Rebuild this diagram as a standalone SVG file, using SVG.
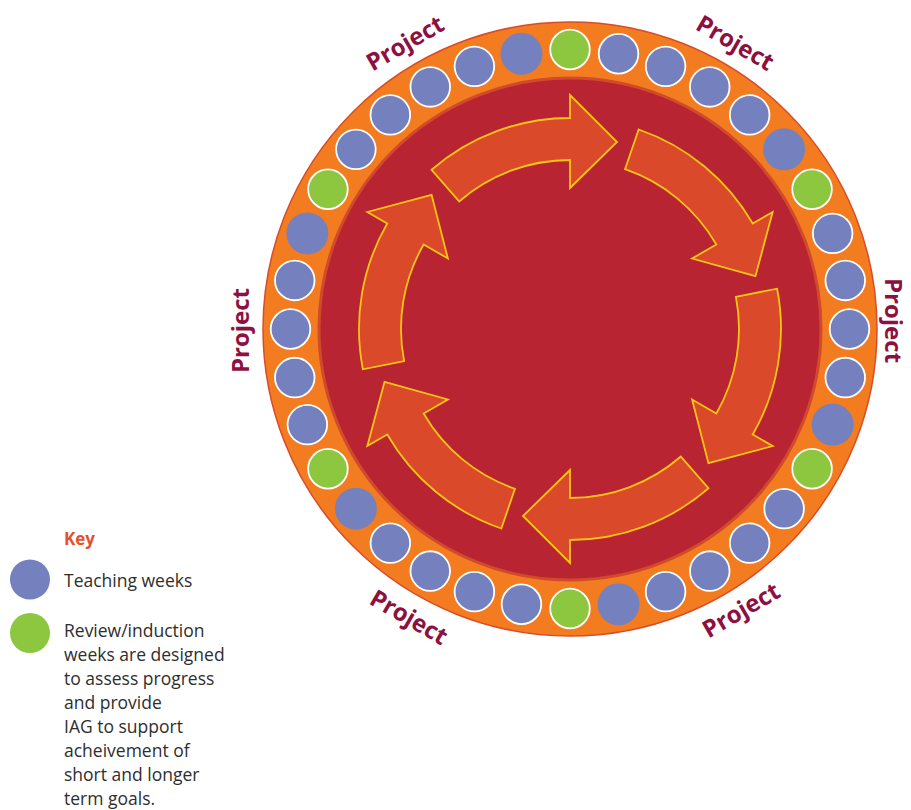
<svg xmlns="http://www.w3.org/2000/svg" xmlns:xlink="http://www.w3.org/1999/xlink" width="911" height="810" viewBox="0 0 911 810">
<style>
.teach{fill:#7481BE;stroke:#FFFFFF;stroke-width:1.8}
.review{fill:#8DC63F;stroke:#FFFFFF;stroke-width:1.8}
.plain{fill:#7481BE}
.proj{font-family:"Open Sans","Noto Sans",sans-serif;font-weight:700;font-size:24px;fill:#8E1040;text-anchor:middle}
.key{font-family:"Open Sans","Noto Sans",sans-serif;font-weight:700;font-size:17px;fill:#E2512A}
.leg{font-family:"Open Sans","Noto Sans",sans-serif;font-size:17.5px;fill:#2E2E2E}
.arrow{fill:#D9492A;stroke:#FCC515;stroke-width:1.8;stroke-linejoin:miter}
</style>
<defs>
<path id="arr" d="M-110.87,-127.55 L-138.43,-159.24 A211,211 0 0 1 0,-211 L0,-234 L47,-187 L0,-141 L0,-169 A169,169 0 0 0 -110.87,-127.55 Z"/>
</defs>
<rect width="911" height="810" fill="#FFFFFF"/>
<g id="wheel">
<circle cx="570" cy="329" r="307" fill="#F47C20" stroke="#DA4B27" stroke-width="1.5"/>
<circle cx="570" cy="329" r="251" fill="#B82432" stroke="#D04A2C" stroke-width="3"/>
</g>
<g id="connectors">
<use xlink:href="#arr" href="#arr" class="arrow" transform="translate(570,329)"/>
<use xlink:href="#arr" href="#arr" class="arrow" transform="translate(570,329) rotate(60)"/>
<use xlink:href="#arr" href="#arr" class="arrow" transform="translate(570,329) rotate(120)"/>
<use xlink:href="#arr" href="#arr" class="arrow" transform="translate(570,329) rotate(180)"/>
<use xlink:href="#arr" href="#arr" class="arrow" transform="translate(570,329) rotate(240)"/>
<use xlink:href="#arr" href="#arr" class="arrow" transform="translate(570,329) rotate(300)"/>
</g>
<g id="weeks">
<g id="week-1"><circle class="review" cx="570" cy="49.5" r="19.8"/></g>
<g id="week-2"><circle class="teach" cx="618.53" cy="53.75" r="19.8"/></g>
<g id="week-3"><circle class="teach" cx="665.59" cy="66.36" r="19.8"/></g>
<g id="week-4"><circle class="teach" cx="709.75" cy="86.94" r="19.8"/></g>
<g id="week-5"><circle class="teach" cx="749.66" cy="114.89" r="19.8"/></g>
<g id="week-6"><circle class="plain" cx="784.11" cy="149.34" r="21"/></g>
<g id="week-7"><circle class="review" cx="812.06" cy="189.25" r="19.8"/></g>
<g id="week-8"><circle class="teach" cx="832.64" cy="233.41" r="19.8"/></g>
<g id="week-9"><circle class="teach" cx="845.25" cy="280.47" r="19.8"/></g>
<g id="week-10"><circle class="teach" cx="849.5" cy="329" r="19.8"/></g>
<g id="week-11"><circle class="teach" cx="845.25" cy="377.53" r="19.8"/></g>
<g id="week-12"><circle class="plain" cx="832.64" cy="424.59" r="21"/></g>
<g id="week-13"><circle class="review" cx="812.06" cy="468.75" r="19.8"/></g>
<g id="week-14"><circle class="teach" cx="784.11" cy="508.66" r="19.8"/></g>
<g id="week-15"><circle class="teach" cx="749.66" cy="543.11" r="19.8"/></g>
<g id="week-16"><circle class="teach" cx="709.75" cy="571.06" r="19.8"/></g>
<g id="week-17"><circle class="teach" cx="665.59" cy="591.64" r="19.8"/></g>
<g id="week-18"><circle class="plain" cx="618.53" cy="604.25" r="21"/></g>
<g id="week-19"><circle class="review" cx="570" cy="608.5" r="19.8"/></g>
<g id="week-20"><circle class="teach" cx="521.47" cy="604.25" r="19.8"/></g>
<g id="week-21"><circle class="teach" cx="474.41" cy="591.64" r="19.8"/></g>
<g id="week-22"><circle class="teach" cx="430.25" cy="571.06" r="19.8"/></g>
<g id="week-23"><circle class="teach" cx="390.34" cy="543.11" r="19.8"/></g>
<g id="week-24"><circle class="plain" cx="355.89" cy="508.66" r="21"/></g>
<g id="week-25"><circle class="review" cx="327.94" cy="468.75" r="19.8"/></g>
<g id="week-26"><circle class="teach" cx="307.36" cy="424.59" r="19.8"/></g>
<g id="week-27"><circle class="teach" cx="294.75" cy="377.53" r="19.8"/></g>
<g id="week-28"><circle class="teach" cx="290.5" cy="329" r="19.8"/></g>
<g id="week-29"><circle class="teach" cx="294.75" cy="280.47" r="19.8"/></g>
<g id="week-30"><circle class="plain" cx="307.36" cy="233.41" r="21"/></g>
<g id="week-31"><circle class="review" cx="327.94" cy="189.25" r="19.8"/></g>
<g id="week-32"><circle class="teach" cx="355.89" cy="149.34" r="19.8"/></g>
<g id="week-33"><circle class="teach" cx="390.34" cy="114.89" r="19.8"/></g>
<g id="week-34"><circle class="teach" cx="430.25" cy="86.94" r="19.8"/></g>
<g id="week-35"><circle class="teach" cx="474.41" cy="66.36" r="19.8"/></g>
<g id="week-36"><circle class="plain" cx="521.47" cy="53.75" r="21"/></g>
</g>
<g id="project-labels">
<g id="project-top-left"><text class="proj" transform="translate(409.25,50.4) rotate(-30)">Project</text></g>
<g id="project-top-right"><text class="proj" transform="translate(731,50.1) rotate(30)">Project</text></g>
<g id="project-right"><text class="proj" transform="translate(885,320.5) rotate(90)">Project</text></g>
<g id="project-left"><text class="proj" transform="translate(248.5,330.5) rotate(-90)">Project</text></g>
<g id="project-bottom-left"><text class="proj" transform="translate(404.75,624.4) rotate(30)">Project</text></g>
<g id="project-bottom-right"><text class="proj" transform="translate(745.25,617.4) rotate(-30)">Project</text></g>
</g>
<g id="key">
<text class="key" x="64" y="545">Key</text>
<g id="key-teaching">
<circle cx="30" cy="579.5" r="20" fill="#7481BE"/>
<text class="leg" x="64" y="587">Teaching weeks</text>
</g>
<g id="key-review">
<circle cx="30" cy="633" r="20" fill="#8DC63F"/>
<text class="leg" x="64" y="637">Review/induction</text>
<text class="leg" x="64" y="661">weeks are designed</text>
<text class="leg" x="64" y="685">to assess progress</text>
<text class="leg" x="64" y="709">and provide</text>
<text class="leg" x="64" y="733">IAG to support</text>
<text class="leg" x="64" y="757">acheivement of</text>
<text class="leg" x="64" y="781">short and longer</text>
<text class="leg" x="64" y="805">term goals.</text>
</g>
</g>
</svg>
